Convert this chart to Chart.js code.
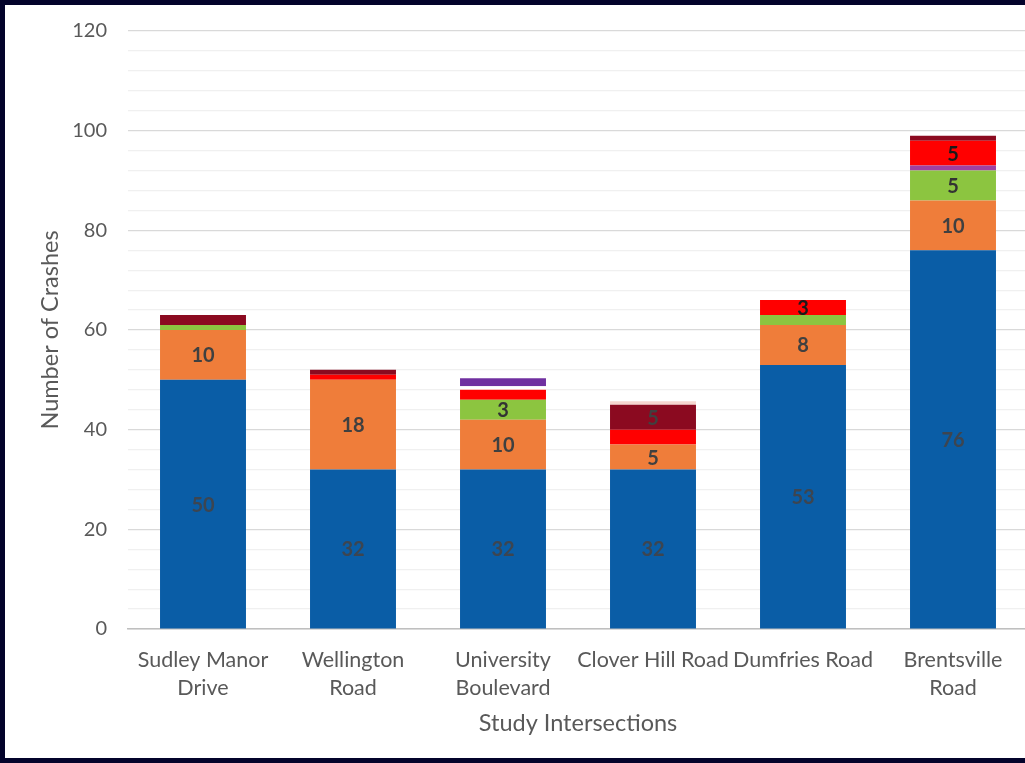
<!DOCTYPE html>
<html lang="en">
<head>
<meta charset="UTF-8">
<title>Study Intersections</title>
<script src="https://cdn.jsdelivr.net/npm/chart.js@4.4.0/dist/chart.umd.min.js"></script>
<style>
  html, body { margin: 0; padding: 0; background: #03032b; overflow: hidden; width: 1025px; height: 763px; }
  #wrap { position: absolute; left: 5px; top: 5px; width: 1030px; height: 753px; background: #fff; overflow: hidden; }
  #myChart { position: absolute; left: 0; top: -7px; }
</style>
</head>
<body>
<div id="wrap"><canvas id="myChart" width="1030" height="760"></canvas></div>
<script>
    // bottom to top stack order
    const categories = [['Sudley Manor', 'Drive'], ['Wellington', 'Road'], ['University', 'Boulevard'],
                        'Clover Hill Road', 'Dumfries Road', ['Brentsville', 'Road']];
    const blue    = [50, 32, 32, 32, 53, 76];
    const orange  = [10, 18, 10, 5, 8, 10];
    const green   = [1, 0, 4, 0, 2, 6];
    const magenta = [0, 0, 0, 0, 0, 1];
    const red     = [0, 1, 2, 3, 3, 5];
    const gap     = [0, 0, 0.7, 0, 0, 0];
    const violet  = [0, 0, 1.6, 0, 0, 0];
    const darkRed = [2, 1, 0, 5, 0, 1];
    const pink    = [0, 0, 0, 0.7, 0, 0];

    const greenLabels   = ['', '', '3', '', '', '5'];
    const redLabels     = ['', '', '', '', '3', '5'];
    const darkRedLabels = ['', '', '', '5', '', ''];

    const FONT = 'Lato, "Open Sans", sans-serif';
    const GREY = '#595959';

    const barLabels = {
        id: 'barLabels',
        afterDatasetsDraw(chart) {
            const ctx = chart.ctx;
            chart.data.datasets.forEach((ds, i) => {
                if (!ds.valueLabels) return;
                const meta = chart.getDatasetMeta(i);
                meta.data.forEach((bar, j) => {
                    const t = ds.valueLabels[j];
                    if (t === '' || t == null) return;
                    ctx.save();
                    ctx.font = 'bold 20px ' + FONT;
                    ctx.fillStyle = ds.labelColor;
                    ctx.textAlign = 'center';
                    ctx.textBaseline = 'middle';
                    ctx.fillText(t, bar.x, (bar.y + bar.base) / 2 + 1);
                    ctx.restore();
                });
            });
        }
    };

    function series(data, color, extra) {
        return Object.assign({ data: data, backgroundColor: color, borderWidth: 0, stack: 's' }, extra || {});
    }

    const ctx = document.getElementById('myChart').getContext('2d');
    const myChart = new Chart(ctx, {
        type: 'bar',
        data: {
            labels: categories,
            datasets: [
                series(blue, '#0a5da6', { valueLabels: blue.map(String), labelColor: '#3d4550' }),
                series(orange, '#ef7d3a', { valueLabels: orange.map(String), labelColor: '#404040' }),
                series(green, '#8cc540', { valueLabels: greenLabels, labelColor: '#333333' }),
                series(magenta, '#a040a0'),
                series(red, '#ff0000', { valueLabels: redLabels, labelColor: '#1a1a1a' }),
                series(gap, '#ffffff'),
                series(violet, '#7030a0'),
                series(darkRed, '#8b0a20', { valueLabels: darkRedLabels, labelColor: '#404040' }),
                series(pink, '#f6d6cf')
            ]
        },
        options: {
            responsive: false,
            animation: false,
            categoryPercentage: 1,
            barPercentage: 0.573,
            layout: { padding: { left: 0, right: 7, top: 18, bottom: 0 } },
            plugins: { legend: { display: false }, tooltip: { enabled: false } },
            scales: {
                x: {
                    stacked: true,
                    grid: { display: false },
                    border: { display: true, color: '#bfbfbf', width: 1.5 },
                    ticks: { color: GREY, padding: 10, font: { family: FONT, size: 21.5, lineHeight: 1.26 }, maxRotation: 0, autoSkip: false },
                    title: { display: true, text: 'Study Intersections', color: GREY,
                             font: { family: FONT, size: 23.5 }, padding: { top: 0, bottom: 20 } },
                    afterFit: s => { s.height = 129; }
                },
                y: {
                    stacked: true,
                    min: 0, max: 120,
                    border: { display: false },
                    grid: {
                        drawTicks: false,
                        color: c => (c.tick.value % 20 === 0 ? '#d9d9d9' : '#f0f0f0'),
                        lineWidth: 1.2
                    },
                    ticks: {
                        stepSize: 4, autoSkip: false, padding: 21, color: GREY,
                        font: { family: FONT, size: 20 },
                        callback: v => (v % 20 === 0 ? v : '')
                    },
                    title: { display: true, text: 'Number of Crashes', color: GREY,
                             font: { family: FONT, size: 23.5 }, padding: { top: 31, bottom: 0 } },
                    afterFit: s => { s.width = 123; }
                }
            }
        },
        plugins: [barLabels]
    });
</script>
</body>
</html>
